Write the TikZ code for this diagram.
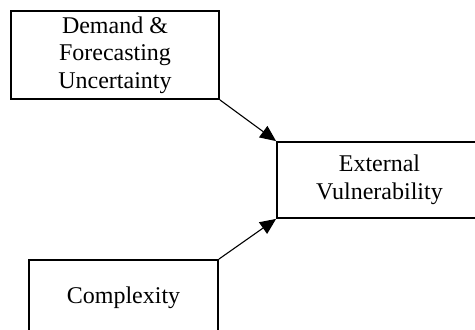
\documentclass[tikz,border=0pt]{standalone}
\usepackage{fontspec}
\setmainfont{Liberation Serif}
\usetikzlibrary{arrows.meta}

\begin{document}
\begin{tikzpicture}[x=1pt,y=-1pt,
    factor/.style={draw=black,line width=1.8pt,inner sep=0pt,align=center,
        font=\fontsize{24}{27.5}\selectfont},
    link/.style={line width=1.1pt,-{Triangle[length=16pt,width=14pt]}}]
            \useasboundingbox (0,0) rectangle (475,330);
            \clip (0,0) rectangle (475,330);

            \node[factor,minimum width=208pt,minimum height=88pt] (demand) at (115,55) {Demand \&\\Forecasting\\Uncertainty};
            \node[factor,minimum width=205pt,minimum height=76pt] (vuln) at (379.5,180) {External\\Vulnerability};
            \node[factor,minimum width=189pt,minimum height=75pt] (complex) at (123.5,297.5) {Complexity};

            \draw[link] (demand.south east) -- (vuln.north west);
            \draw[link] (complex.north east) -- (vuln.south west);
        \end{tikzpicture}
\end{document}
